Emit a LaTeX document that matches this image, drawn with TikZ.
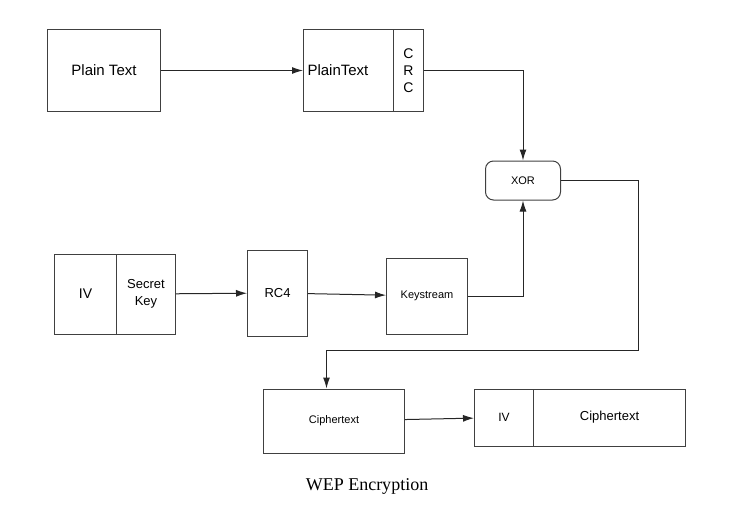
\documentclass[tikz,border=0pt]{standalone}
\usepackage{fontspec}
\setmainfont{Liberation Serif}
\setsansfont{Liberation Sans}
\usetikzlibrary{arrows.meta}

\newcommand{\fsz}[1]{\sffamily\fontsize{#1}{17}\selectfont}

\begin{document}
\begin{tikzpicture}[x=1pt, y=-1pt,
  box/.style={draw=black!75, line width=1pt, inner sep=0pt, align=center, right},
  line/.style={draw=black!85, line width=1pt},
  arr/.style={line, -{Latex[length=11pt,width=7pt]}}]

\useasboundingbox (0,0) rectangle (730,511);

\node[box, minimum width=113, minimum height=81, font=\fsz{15}] (1) at (47, 70.5) {Plain Text};

\node[box, text width=82, inner xsep=4, minimum height=82, align=left, font=\fsz{15}] (2) at (303, 70.5) {PlainText};
\node[box, minimum width=30, minimum height=82, font=\fsz{14}] (3) at (393, 70.5) {C\\R\\C};

\node[box, rounded corners=8, minimum width=75, minimum height=39, font=\fsz{11}] (4) at (485, 180.5) {XOR};

\node[box, minimum width=62, minimum height=80, font=\fsz{14}] (5) at (54, 294) {IV};
\node[box, minimum width=59, minimum height=80, font=\fsz{13}] (6) at (116, 294) {Secret\\Key};

\node[box, minimum width=60, minimum height=86, font=\fsz{13}] (7) at (247, 293) {RC4};

\node[box, minimum width=81, minimum height=76, font=\fsz{11}] (8) at (386, 296) {Keystream};

\node[box, minimum width=141, minimum height=64, font=\fsz{11}] (9) at (263, 421) {Ciphertext};

\node[box, minimum width=59, minimum height=57, font=\fsz{12}] (10) at (474, 417.5) {IV};
\node[box, minimum width=152, minimum height=57, font=\fsz{13}] (11) at (533, 417.5) {Ciphertext};

\node[font=\fontsize{18}{20}\selectfont] (12) at (367, 486) {WEP Encryption};

\coordinate (c1) at (638, 350);

\draw[arr] (1) -- (2);
\draw[arr] (3) -| (4);
\draw[arr] (6) -- (7);
\draw[arr] (7) -- (8);
\draw[arr] (8) -| (4);
\draw[arr] (4) -| (c1) -| ([xshift=-7.5]9.north);
\draw[arr] (9) -- (10);

\end{tikzpicture}
\end{document}
